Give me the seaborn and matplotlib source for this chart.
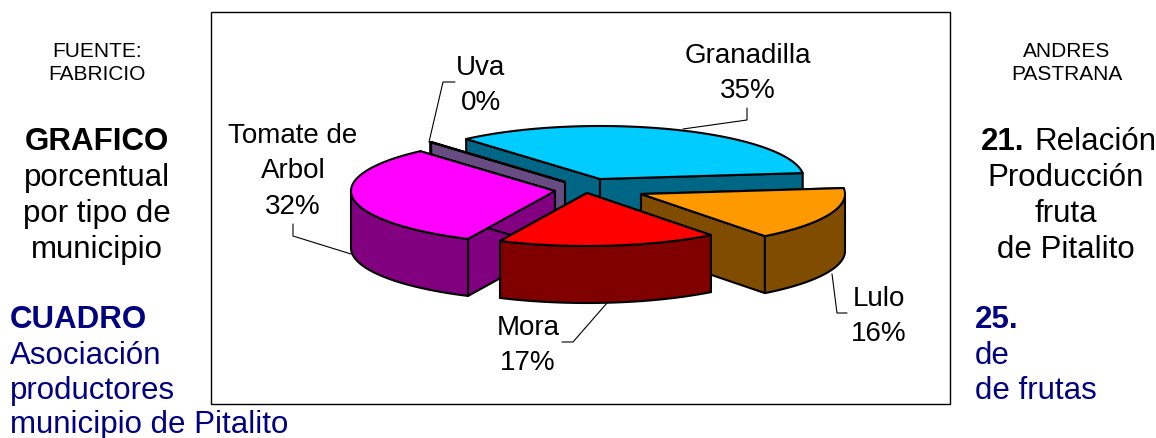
import numpy as np
import matplotlib
matplotlib.use('Agg')
import matplotlib.pyplot as plt
import seaborn as sns

# Data
fruits = ['Granadilla', 'Lulo', 'Mora', 'Tomate de\nArbol', 'Uva']
shares = [34.6, 16.4, 17.4, 31.5, 0.1]

# Colours per slice
top_colors = ['#00CCFF', '#FF9900', '#FF0000', '#FF00FF', '#996699']
side_colors = ['#006685', '#804D00', '#800000', '#800080', '#664C80']

# Layout, in pixels of the picture
START_ANGLE = 131
RX, RY, DEPTH = 204, 53, 57
apexes = [(600, 180), (641, 195), (587, 194), (555, 192), (565, 183)]
draw_order = [0, 4, 3, 1, 2]
label_pos = [(747.5, 63), (879, 306), (528, 335), (293, 143), (481, 75)]
leaders = [
    [(683, 130), (747, 121), (747, 109)],
    [(832, 275), (837, 314), (847, 314)],
    [(607, 304), (573, 343), (562, 343)],
    [(351, 255), (293, 237), (293, 225)],
    [(429, 143), (443, 83), (455, 83)],
]
LINE = 36
NAVY = '#000080'


def rim(apex, a0, a1):
    """Points on the outer rim between two angles, in degrees."""
    t = np.radians(np.linspace(a0, a1, 80))
    return np.column_stack([apex[0] + RX * np.cos(t), apex[1] - RY * np.sin(t)])


def draw_slice(ax, apex, a0, a1, top, side):
    arc = rim(apex, a0, a1)
    drop = np.array([0, DEPTH])
    centre = np.array(apex, dtype=float)
    # radial walls first, the rim wall and the top then hide the back ones
    for p in (arc[0], arc[-1]):
        ax.fill(*np.array([centre, p, p + drop, centre + drop]).T,
                fc=side, ec='black', lw=1.5, joinstyle='round')
    # only the part of the rim facing the viewer has a wall
    t = np.radians(np.linspace(a0, a1, 80))
    front = arc[np.sin(t) <= 0]
    if len(front) > 1:
        ax.fill(*np.vstack([front, (front + drop)[::-1]]).T,
                fc=side, ec='black', lw=1.5, joinstyle='round')
    ax.fill(*np.vstack([centre, arc]).T, fc=top, ec='black', lw=1.5, joinstyle='round')


sns.set_theme(style='white')
plt.rcParams['font.family'] = ['Liberation Sans', 'DejaVu Sans']

fig = plt.figure(figsize=(11.56, 4.39), dpi=100)
ax = fig.add_axes([0, 0, 1, 1])
ax.set_xlim(0, 1156)
ax.set_ylim(439, 0)
ax.axis('off')

# chart frame
ax.add_patch(plt.Rectangle((211, 13), 739, 392, fc='white', ec='black', lw=1))

# slices run clockwise from the start angle
sweeps = np.array(shares) / sum(shares) * 360
ends = START_ANGLE - np.cumsum(sweeps)
starts = ends + sweeps
for i in draw_order:
    draw_slice(ax, apexes[i], starts[i], ends[i], top_colors[i], side_colors[i])

for pts in leaders:
    ax.plot(*np.array(pts).T, color='black', lw=0.8)

for fruit, share, (x, y) in zip(fruits, shares, label_pos):
    lines = fruit.split('\n') + [f'{round(share)}%']
    for n, line in enumerate(lines):
        ax.text(x, y + n * 35.4, line, ha='center', va='baseline', fontsize=20, color='black')

# surrounding page text
for y, s in [(57, 'FUENTE:'), (80, 'FABRICIO')]:
    ax.text(97, y, s, ha='center', va='baseline', fontsize=15, color='black')
for y, s in [(57, 'ANDRES'), (80, 'PASTRANA')]:
    ax.text(1067, y, s, ha='center', va='baseline', fontsize=15, color='black')

ax.text(97, 150, 'GRAFICO', ha='center', va='baseline', fontsize=22.5, fontweight='bold', color='black')
for n, s in enumerate(['porcentual', 'por tipo de', 'municipio']):
    ax.text(97, 186 + n * LINE, s, ha='center', va='baseline', fontsize=22.5, color='black')

ax.text(981, 150, '21.', ha='left', va='baseline', fontsize=22.5, fontweight='bold', color='black')
ax.text(1034, 150, 'Relación', ha='left', va='baseline', fontsize=22.5, color='black')
for n, s in enumerate(['Producción', 'fruta', 'de Pitalito']):
    ax.text(1066, 186 + n * LINE, s, ha='center', va='baseline', fontsize=22.5, color='black')

ax.text(10, 328, 'CUADRO', ha='left', va='baseline', fontsize=22.5, fontweight='bold', color=NAVY)
for y, s in [(364, 'Asociación'), (399, 'productores'), (433, 'municipio de Pitalito')]:
    ax.text(10, y, s, ha='left', va='baseline', fontsize=22.5, color=NAVY)

ax.text(975, 328, '25.', ha='left', va='baseline', fontsize=22.5, fontweight='bold', color=NAVY)
for y, s in [(364, 'de'), (399, 'de frutas')]:
    ax.text(975, y, s, ha='left', va='baseline', fontsize=22.5, color=NAVY)

fig.savefig('out.png', dpi=100, facecolor='white')
